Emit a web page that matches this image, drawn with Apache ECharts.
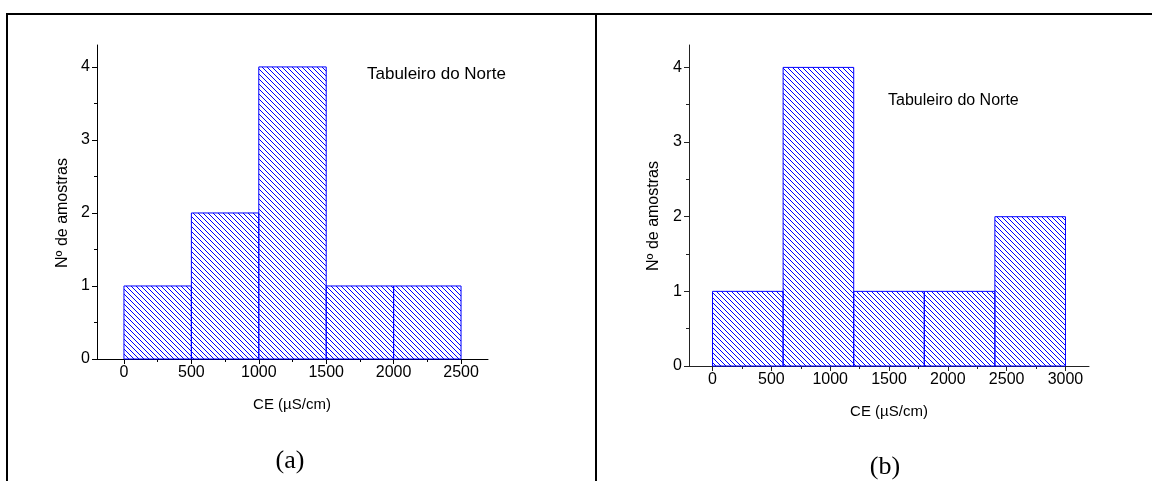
<!DOCTYPE html>
<html><head><meta charset="utf-8">
<script src="https://cdn.jsdelivr.net/npm/echarts@6/dist/echarts.min.js"></script>
<style>html,body{margin:0;padding:0;background:#fff}#c{width:1152px;height:481px}</style>
</head><body><div id="c"></div>
<script>
// ---- data ----
const edgesA = [0, 500, 1000, 1500, 2000, 2500];
const countsA = [1, 2, 4, 1, 1];
const edgesB = [0, 600, 1200, 1800, 2400, 3000];
const countsB = [1, 4, 1, 1, 2];
const xTicksA = [0, 500, 1000, 1500, 2000, 2500];
const xMinorA = [250, 750, 1250, 1750, 2250];
const xTicksB = [0, 500, 1000, 1500, 2000, 2500, 3000];
const xMinorB = [250, 750, 1250, 1750, 2250, 2750];
const yTicks = [0, 1, 2, 3, 4];
const yMinor = [0.5, 1.5, 2.5, 3.5];
const siteLabel = 'Tabuleiro do Norte';
const xTitle = 'CE (\u00b5S/cm)';
const yTitle = 'N\u00ba de amostras';
const panelLabels = ['(a)', '(b)'];

// ---- hatch pattern ----
const tile = document.createElement('canvas');
tile.width = 5; tile.height = 5;
const tctx = tile.getContext('2d');
tctx.fillStyle = '#0000ff';
for (let i = 0; i < 5; i++) tctx.fillRect(i, i, 1, 1);
const hatch = { image: tile, repeat: 'repeat' };

function bins(edges, counts) {
  return counts.map((c, i) => [edges[i], edges[i + 1], c]);
}
function renderItem(params, api) {
  const p0 = api.coord([api.value(0), api.value(2)]);
  const p1 = api.coord([api.value(1), 0]);
  return {
    type: 'rect',
    shape: { x: p0[0], y: p0[1], width: p1[0] - p0[0], height: p1[1] - p0[1] },
    style: { fill: hatch, stroke: '#0000ff', lineWidth: 1 }
  };
}

const font = 'Liberation Sans, Arial, sans-serif';
const plain = v => String(v);
function xAxes(gi, min, max, ticks, minor, fs, col) {
  return [{
    type: 'value', gridIndex: gi, min: min, max: max, position: 'bottom',
    splitLine: { show: false },
    axisLine: { show: true, onZero: false, lineStyle: { color: col, width: 1 } },
    axisTick: { show: true, length: 5, customValues: ticks, lineStyle: { color: col } },
    axisLabel: { show: true, customValues: ticks, formatter: plain, margin: 6, color: '#000', fontSize: fs, fontFamily: font }
  }, {
    type: 'value', gridIndex: gi, min: min, max: max, position: 'bottom',
    splitLine: { show: false },
    axisLine: { show: false, onZero: false },
    axisTick: { show: true, length: 3, customValues: minor, lineStyle: { color: col } },
    axisLabel: { show: false }
  }];
}
function yAxes(gi, min, max, fs, col) {
  return [{
    type: 'value', gridIndex: gi, min: min, max: max, position: 'left',
    splitLine: { show: false },
    axisLine: { show: true, onZero: false, lineStyle: { color: col, width: 1 } },
    axisTick: { show: true, length: 5, customValues: yTicks, lineStyle: { color: col } },
    axisLabel: { show: true, customValues: yTicks, formatter: plain, margin: 7, color: '#000', fontSize: fs, fontFamily: font }
  }, {
    type: 'value', gridIndex: gi, min: min, max: max, position: 'left',
    splitLine: { show: false },
    axisLine: { show: false, onZero: false },
    axisTick: { show: true, length: 3, customValues: yMinor, lineStyle: { color: col } },
    axisLabel: { show: false }
  }];
}

const chart = echarts.init(document.getElementById('c'), null, { renderer: 'canvas' });
chart.setOption({
  animation: false,
  backgroundColor: '#fff',
  grid: [
    { left: 97, top: 45, width: 391, height: 314 },
    { left: 689, top: 45, width: 400, height: 321 }
  ],
  xAxis: [].concat(xAxes(0, -200, 2700, xTicksA, xMinorA, 16, '#000'),
                   xAxes(1, -200, 3200, xTicksB, xMinorB, 16, '#222')),
  yAxis: [].concat(yAxes(0, 0, 4.3, 16, '#000'), yAxes(1, 0, 4.3, 16, '#222')),
  series: [
    { type: 'custom', xAxisIndex: 0, yAxisIndex: 0, renderItem: renderItem,
      data: bins(edgesA, countsA), encode: { x: [0, 1], y: 2 } },
    { type: 'custom', xAxisIndex: 2, yAxisIndex: 2, renderItem: renderItem,
      data: bins(edgesB, countsB), encode: { x: [0, 1], y: 2 } }
  ],
  graphic: [
    { type: 'line', shape: { x1: 6, y1: 14, x2: 1152, y2: 14 }, style: { stroke: '#000', lineWidth: 2 } },
    { type: 'line', shape: { x1: 7, y1: 13, x2: 7, y2: 481 }, style: { stroke: '#000', lineWidth: 2 } },
    { type: 'line', shape: { x1: 596, y1: 13, x2: 596, y2: 481 }, style: { stroke: '#000', lineWidth: 2 } },
    { type: 'text', x: 367, y: 74, style: { text: siteLabel, font: '17px ' + font, fill: '#000', textVerticalAlign: 'middle' } },
    { type: 'text', x: 888, y: 101, style: { text: siteLabel, font: '16px ' + font, fill: '#000', textVerticalAlign: 'middle' } },
    { type: 'text', x: 292, y: 405, style: { text: xTitle, font: '15px ' + font, fill: '#000', textAlign: 'center', textVerticalAlign: 'middle' } },
    { type: 'text', x: 889, y: 412, style: { text: xTitle, font: '15px ' + font, fill: '#000', textAlign: 'center', textVerticalAlign: 'middle' } },
    { type: 'text', x: 63, y: 213, rotation: Math.PI / 2, style: { text: yTitle, font: '16px ' + font, fill: '#000', textAlign: 'center', textVerticalAlign: 'middle' } },
    { type: 'text', x: 654, y: 216, rotation: Math.PI / 2, style: { text: yTitle, font: '16px ' + font, fill: '#000', textAlign: 'center', textVerticalAlign: 'middle' } },
    { type: 'text', x: 290, y: 461, style: { text: panelLabels[0], font: '26px Liberation Serif, Times New Roman, serif', fill: '#000', textAlign: 'center', textVerticalAlign: 'middle' } },
    { type: 'text', x: 885, y: 467, style: { text: panelLabels[1], font: '26px Liberation Serif, Times New Roman, serif', fill: '#000', textAlign: 'center', textVerticalAlign: 'middle' } }
  ]
});
</script>
</body></html>
